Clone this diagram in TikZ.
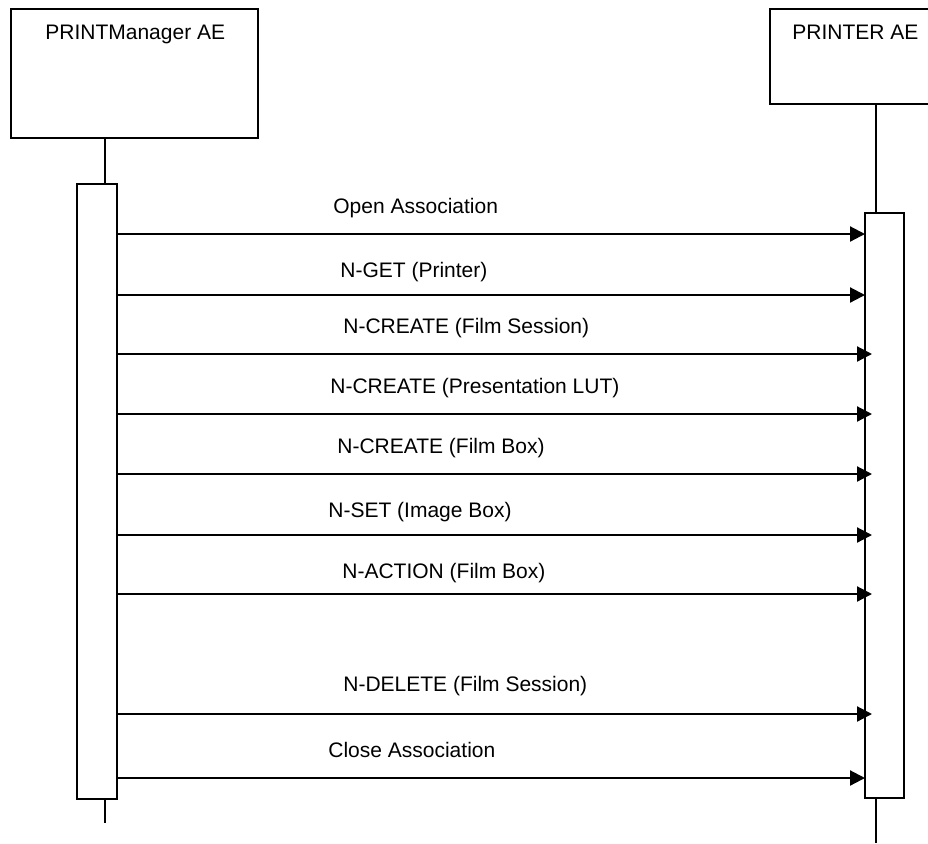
\documentclass[tikz,border=0pt]{standalone}
\usepackage{fontspec}
\setmainfont{Liberation Sans}
\usetikzlibrary{arrows.meta, positioning}
\tikzset{
    entity/.style={
        rectangle, draw=black, line width=1pt,
        fill=white, inner sep=0pt, outer sep=0pt
    },
    activation/.style={
        rectangle, draw=black, line width=1pt,
        fill=white, inner sep=0pt, outer sep=0pt
    },
    lifeline/.style={draw=black, line width=1pt},
    msg/.style={draw=black, line width=1.1pt, -{Triangle[length=7.5pt, width=7.5pt]}},
    msgin/.style={msg, shorten >=-3.5pt},
    msglabel/.style={anchor=base west, inner sep=0pt, font=\fontsize{10.5}{12}\selectfont}
}

\begin{document}
\begin{tikzpicture}[x=0.5pt, y=-0.5pt]

\useasboundingbox (0,0) rectangle (928,843);
\clip (0,0) rectangle (928,843);

% Application entities
\node[entity, minimum width=123.5pt, minimum height=64.5pt] (pm) at (134.5,73.5) {};
\node[msglabel] (pmname) at (45,39) {PRINTManager AE};

\node[entity, minimum width=120pt, minimum height=47.5pt] (pr) at (890,56.5) {};
\node[msglabel] (prname) at (792,39) {PRINTER AE};

% Activation bars
\node[activation, minimum width=20pt, minimum height=307.5pt] (act1) at (97,491.5) {};
\node[activation, minimum width=19.5pt, minimum height=292.5pt] (act2) at (884.5,505.5) {};

% Lifelines
\coordinate (pmx) at (105,0);
\coordinate (prx) at (876,0);
\coordinate (pmend) at (105,823);
\coordinate (prend) at (876,843);

\draw[lifeline] (pm.south -| pmx) -- (act1.north -| pmx);
\draw[lifeline] (act1.south -| pmx) -- (pmend);
\draw[lifeline] (pr.south -| prx) -- (act2.north -| prx);
\draw[lifeline] (act2.south -| prx) -- (prend);

% Messages
\coordinate (m1) at (0,234);
\coordinate (m2) at (0,295);
\coordinate (m3) at (0,354);
\coordinate (m4) at (0,414);
\coordinate (m5) at (0,474);
\coordinate (m6) at (0,535);
\coordinate (m7) at (0,594);
\coordinate (m8) at (0,714);
\coordinate (m9) at (0,778);

\node[msglabel] (l1) at (333,213) {Open Association};
\node[msglabel] (l2) at (340,277) {N-GET (Printer)};
\node[msglabel] (l3) at (343,333) {N-CREATE (Film Session)};
\node[msglabel] (l4) at (330,393) {N-CREATE (Presentation LUT)};
\node[msglabel] (l5) at (337,453) {N-CREATE (Film Box)};
\node[msglabel] (l6) at (328,517) {N-SET (Image Box)};
\node[msglabel] (l7) at (342,578) {N-ACTION (Film Box)};
\node[msglabel] (l8) at (343,691) {N-DELETE (Film Session)};
\node[msglabel] (l9) at (328,757) {Close Association};

\draw[msg] (m1 -| act1.east) -- (m1 -| act2.west);
\draw[msg] (m2 -| act1.east) -- (m2 -| act2.west);
\draw[msgin] (m3 -| act1.east) -- (m3 -| act2.west);
\draw[msgin] (m4 -| act1.east) -- (m4 -| act2.west);
\draw[msgin] (m5 -| act1.east) -- (m5 -| act2.west);
\draw[msgin] (m6 -| act1.east) -- (m6 -| act2.west);
\draw[msgin] (m7 -| act1.east) -- (m7 -| act2.west);
\draw[msgin] (m8 -| act1.east) -- (m8 -| act2.west);
\draw[msg] (m9 -| act1.east) -- (m9 -| act2.west);

\end{tikzpicture}
\end{document}
